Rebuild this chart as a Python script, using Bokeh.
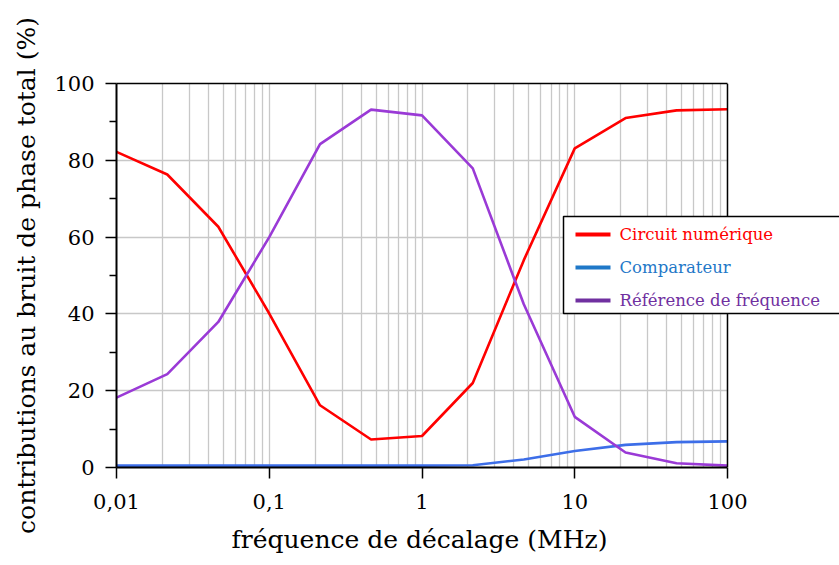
import math
from bokeh.plotting import figure
from bokeh.models import (Range1d, FixedTicker, CustomJSTickFormatter, BoxAnnotation,
                          Label, Arrow, Span, LogAxis, Title)
from bokeh.embed import file_html
from bokeh.resources import INLINE

freq = [0.01, 0.0215, 0.0464, 0.1, 0.215, 0.464, 1, 2.15, 4.64, 10, 21.5, 46.4, 100]
circuit = [82.2, 76.3, 62.7, 40.1, 16.2, 7.3, 8.2, 22.0, 54.0, 83.1, 91.0, 93.0, 93.3]
comparateur = [0.5, 0.5, 0.5, 0.5, 0.5, 0.5, 0.5, 0.6, 2.1, 4.3, 5.9, 6.6, 6.8]
reference = [18.2, 24.3, 37.9, 60.0, 84.2, 93.2, 91.7, 77.9, 42.5, 13.2, 3.9, 1.1, 0.5]

x_major = [0.01, 0.1, 1, 10, 100]
x_minor = [m * d for d in [0.01, 0.1, 1, 10] for m in range(2, 10)]
y_major = [0, 20, 40, 60, 80, 100]
y_minor = [10, 30, 50, 70, 90]
x_lo, x_hi = 0.01, 100

labels = ["Circuit numérique", "Comparateur", "Référence de fréquence"]
line_colors = ["#ff0000", "#3d6ee8", "#9a3ad6"]
legend_colors = ["#ff0000", "#1f78c8", "#7030a0"]
x_title = "fréquence de décalage (MHz)"
y_title = "contributions au bruit de phase total (%)"

FONT = "DejaVu Serif"

W, H = 839, 565
LEFT, TOP, BOTTOM = 116, 83, 98
AXIS_PX = 611  # pixel length of the 0.01..100 axis
frame_w = W - LEFT
decades = math.log10(x_hi) - math.log10(x_lo)
x_end = 10 ** (math.log10(x_lo) + decades * frame_w / AXIS_PX)

p = figure(width=W, height=H, x_axis_type="log",
           x_range=Range1d(x_lo, x_end), y_range=Range1d(0, 100),
           output_backend="svg", toolbar_location=None,
           min_border_left=LEFT, min_border_top=TOP, min_border_right=0,
           min_border_bottom=BOTTOM)
p.outline_line_color = None

p.xaxis.ticker = FixedTicker(ticks=x_major, minor_ticks=x_minor)
p.yaxis.ticker = FixedTicker(ticks=y_major, minor_ticks=y_minor)
p.xaxis.formatter = CustomJSTickFormatter(code="return tick.toString().replace('.', ',');")
p.xaxis.bounds = (x_lo, x_hi)
p.xgrid.bounds = (x_lo, x_hi)

for ax in (p.xaxis, p.yaxis):
    ax.axis_line_color = "black"
    ax.axis_line_width = 2
    ax.major_tick_line_color = "black"
    ax.major_tick_line_width = 1.5
    ax.major_tick_in = 0
    ax.major_tick_out = 11
    ax.minor_tick_in = 0
    ax.major_label_text_font = FONT
    ax.major_label_text_font_size = "21px"
    ax.major_label_text_color = "black"
    ax.axis_label_text_font = FONT
    ax.axis_label_text_font_size = "25px"
    ax.axis_label_text_font_style = "normal"
    ax.axis_label_text_color = "black"
p.xaxis.minor_tick_out = 0
p.yaxis.minor_tick_out = 7
p.yaxis.minor_tick_line_color = "black"
p.yaxis.minor_tick_line_width = 1.5
p.xaxis.major_label_standoff = 15
p.yaxis.major_label_standoff = 11
p.yaxis.axis_label = y_title
p.yaxis.axis_label_standoff = 10

# x-axis title, centred on the 0.01..100 axis (not the wider drawing area)
p.add_layout(Title(text=x_title, align="left", offset=115, standoff=23,
                   text_line_height=0.7,
                   text_font=FONT, text_font_size="25px", text_font_style="normal",
                   text_color="black"), "below")

# top border as a bounded axis
top_ax = LogAxis(ticker=FixedTicker(ticks=[]), bounds=(x_lo, x_hi),
                 axis_line_color="black", axis_line_width=1.5,
                 major_tick_out=0, minor_tick_out=0, major_tick_in=0, minor_tick_in=0)
p.add_layout(top_ax, "above")

p.xgrid.grid_line_color = "#c8c8c8"
p.xgrid.grid_line_width = 1.3
p.xgrid.minor_grid_line_color = "#c8c8c8"
p.xgrid.minor_grid_line_width = 1.3
p.ygrid.grid_line_color = "#c8c8c8"
p.ygrid.grid_line_width = 1.3

series = [circuit, comparateur, reference]
for vals, col in zip(series, line_colors):
    p.line(freq, vals, line_color=col, line_width=2.6)

# blank out the area right of the axis end, then the right border
p.add_layout(BoxAnnotation(left=x_hi, fill_color="white", fill_alpha=1, line_color=None))
p.add_layout(Span(location=x_hi, dimension="height", line_color="black", line_width=1.5))

# legend (overhangs the plot area to the right)
box = BoxAnnotation(left=447, right=740, bottom=154, top=251,
                    left_units="screen", right_units="screen",
                    bottom_units="screen", top_units="screen",
                    fill_color="white", fill_alpha=1,
                    line_color="black", line_alpha=1, line_width=1.5)
p.add_layout(box)

centers = [233, 200, 167]
for lab, col, cy in zip(labels, legend_colors, centers):
    p.add_layout(Arrow(x_start=459, y_start=cy, x_end=494, y_end=cy,
                       start_units="screen", end_units="screen",
                       start=None, end=None, line_color=col, line_width=4))
    p.add_layout(Label(x=503, y=cy, x_units="screen", y_units="screen", text=lab,
                       text_color=col, text_font=FONT, text_font_size="16.5px",
                       text_baseline="middle", text_align="left"))

open("out.html", "w").write(file_html(p, INLINE))
